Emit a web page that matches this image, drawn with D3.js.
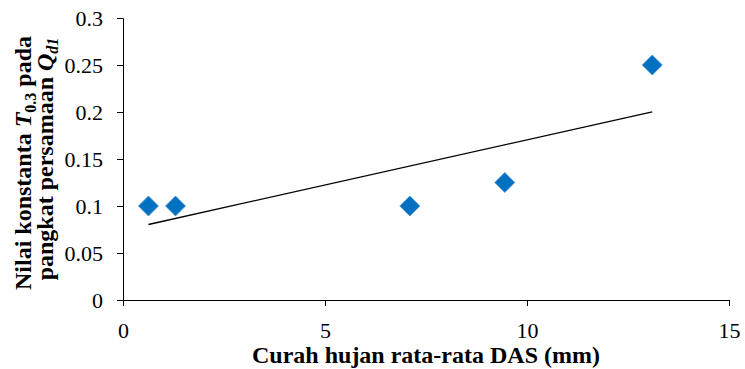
<!DOCTYPE html>
<html><head><meta charset="utf-8">
<script src="https://cdn.jsdelivr.net/npm/d3@7"></script>
<style>body{margin:0;background:#fff}svg{display:block}text{font-family:"Liberation Serif","Times New Roman",serif}</style>
</head><body>
<script>
const rainfall = [0.63, 1.3, 7.1, 9.45, 13.1];
const tValues = [0.1, 0.1, 0.1, 0.125, 0.25];
const xTicks = [0, 5, 10, 15];
const yTicks = [0, 0.05, 0.1, 0.15, 0.2, 0.25, 0.3];

const W = 745, H = 369;
const m = {left: 123, right: 16, top: 18, bottom: 69};
const svg = d3.select("body").append("svg").attr("width", W).attr("height", H);
const x = d3.scaleLinear().domain([0, 15]).range([m.left, W - m.right]);
const y = d3.scaleLinear().domain([0, 0.3]).range([H - m.bottom, m.top]);

const xa = svg.append("g").attr("transform", `translate(0,${y(0)})`)
  .call(d3.axisBottom(x).tickValues(xTicks).tickFormat(d3.format("d")).tickSizeOuter(0).tickSize(6).tickPadding(16));
const ya = svg.append("g").attr("transform", `translate(${x(0)},0)`)
  .call(d3.axisLeft(y).tickValues(yTicks).tickFormat(d => String(d)).tickSizeOuter(0).tickSize(6).tickPadding(14));
[xa, ya].forEach(g => {
  g.selectAll("path,line").attr("stroke", "#000").attr("stroke-width", 1);
  g.selectAll("text").attr("fill", "#000").attr("font-size", 22).attr("font-family", '"Liberation Serif",serif');
});

// linear trendline (least squares)
const n = rainfall.length;
const mx = d3.mean(rainfall), my = d3.mean(tValues);
let sxy = 0, sxx = 0;
for (let i = 0; i < n; i++) { sxy += (rainfall[i]-mx)*(tValues[i]-my); sxx += (rainfall[i]-mx)**2; }
const slope = sxy / sxx, icpt = my - slope * mx;
const x0 = d3.min(rainfall), x1 = d3.max(rainfall);
svg.append("line").attr("x1", x(x0)).attr("y1", y(icpt + slope*x0))
  .attr("x2", x(x1)).attr("y2", y(icpt + slope*x1)).attr("stroke", "#000").attr("stroke-width", 1.3);

const r = 10;
svg.append("g").selectAll("path").data(rainfall).join("path")
  .attr("d", (d, i) => { const cx = x(d), cy = y(tValues[i]);
    return `M${cx},${cy-r}L${cx+r},${cy}L${cx},${cy+r}L${cx-r},${cy}Z`; })
  .attr("fill", "#0070C0").attr("stroke", "#4a90d0").attr("stroke-width", 0.8);

svg.append("text").attr("x", 426).attr("y", 363).attr("text-anchor", "middle")
  .attr("font-size", 24).attr("font-weight", "bold").text("Curah hujan rata-rata DAS (mm)");

const t1 = svg.append("text").attr("transform", `translate(31,163) rotate(-90)`).attr("text-anchor", "middle")
  .attr("font-size", 24).attr("font-weight", "bold");
t1.append("tspan").text("Nilai konstanta ");
t1.append("tspan").attr("font-style", "italic").text("T");
t1.append("tspan").attr("font-size", 16).attr("dy", 5).text("0.3");
t1.append("tspan").attr("dy", -5).text(" pada");
const t2 = svg.append("text").attr("transform", `translate(53,159) rotate(-90)`).attr("text-anchor", "middle")
  .attr("font-size", 24).attr("font-weight", "bold");
t2.append("tspan").text("pangkat persamaan ");
t2.append("tspan").attr("font-style", "italic").text("Q");
t2.append("tspan").attr("font-style", "italic").attr("font-size", 16).attr("dy", 5).text("d1");
</script>
</body></html>
